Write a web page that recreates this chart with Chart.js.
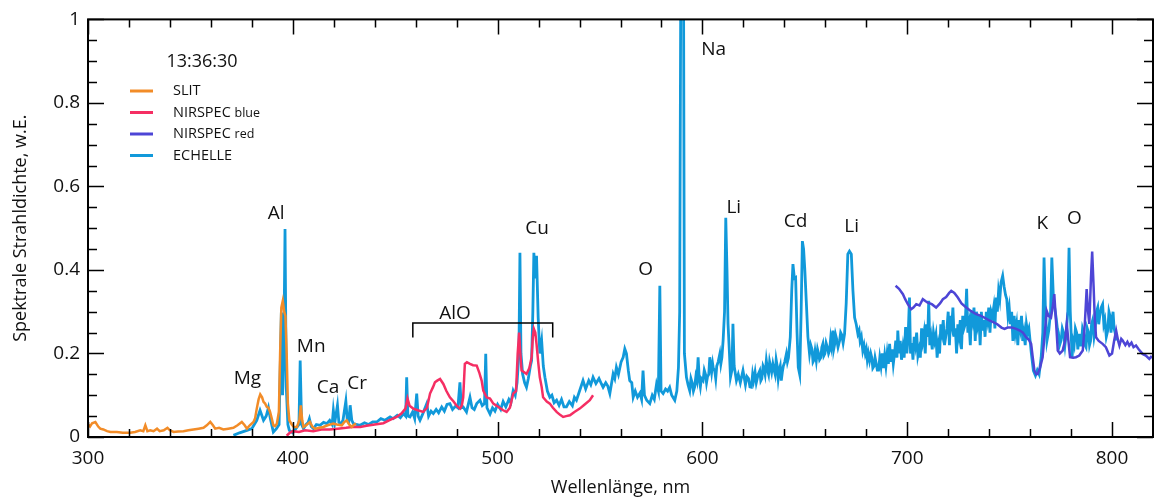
<!DOCTYPE html>
<html lang="de">
<head>
    <meta charset="UTF-8">
    <title>Spektrum 13:36:30</title>
    <script src="https://cdn.jsdelivr.net/npm/chart.js"></script>
    <style>
        body { margin: 0; background: #fff; }
        canvas { display: block; }
    </style>
</head>
<body>
<canvas id="spektrum" width="1154" height="501"></canvas>
<script>
    // Achsen
    const xMin = 300, xMax = 820;
    const yMin = 0, yMax = 1;

    // SLIT [nm, Wert]
    const slit = [
        [300,0.03],[301,0.025],[302,0.033],[303.6,0.036],[305,0.025],[306,0.02],[307.5,0.018],[309.3,0.014],
        [311,0.012],[314.1,0.012],[317,0.01],[320.6,0.01],[323,0.012],[325.5,0.016],[327,0.014],[328,0.028],
        [329,0.014],[330.4,0.016],[332,0.014],[333.7,0.02],[335,0.014],[337,0.016],[338.8,0.022],[340,0.016],
        [341.8,0.012],[344,0.013],[346.6,0.014],[349,0.016],[351.5,0.018],[354,0.02],[356.4,0.022],[358,0.028],
        [359.7,0.036],[361,0.028],[362.1,0.02],[364,0.022],[366.1,0.018],[368.5,0.02],[371,0.022],[373,0.028],
        [375.1,0.036],[376.5,0.028],[377.6,0.02],[379,0.028],[380.8,0.036],[381.6,0.045],[382.4,0.068],[383.3,0.09],
        [384.1,0.102],[385,0.095],[385.7,0.084],[386.5,0.08],[387.3,0.072],[388.1,0.07],[388.9,0.06],[389.7,0.045],
        [390.5,0.028],[391.3,0.026],[392.2,0.032],[393.2,0.06],[393.8,0.2],[394.4,0.31],[395.1,0.326],[395.8,0.3],
        [396.4,0.29],[397,0.2],[397.6,0.08],[398.3,0.04],[399.5,0.03],[400.5,0.024],[402,0.024],[403.2,0.04],
        [403.9,0.076],[404.6,0.04],[405.2,0.024],[406.5,0.028],[408.4,0.036],[409.5,0.025],[410.9,0.02],[413,0.022],
        [414.9,0.024],[417,0.028],[419.8,0.032],[421.5,0.03],[423.9,0.028],[425,0.035],[426.3,0.04],[427.5,0.03],
        [428.8,0.024],[430,0.03],[430.9,0.032]
    ];

    // NIRSPEC blue [nm, Wert]
    const nirspecBlue = [
        [397,0.003],[398.5,0.01],[400,0.014],[403,0.012],[406,0.016],[410,0.014],[414,0.018],[418,0.018],
        [422,0.02],[426,0.022],[429,0.024],[432.9,0.024],[436,0.027],[440,0.03],[444.2,0.033],[447,0.04],
        [450.7,0.048],[453,0.056],[455,0.068],[456,0.092],[457,0.075],[458.8,0.068],[461,0.064],[463.7,0.06],
        [465.5,0.07],[467,0.104],[468.5,0.12],[469.4,0.131],[470.5,0.135],[471.9,0.139],[473.5,0.127],[475,0.11],
        [476.7,0.095],[478.5,0.085],[480,0.075],[481.6,0.068],[482.5,0.075],[483.2,0.095],[484,0.175],[485,0.179],
        [486.5,0.175],[488,0.172],[489.8,0.171],[491,0.155],[492.2,0.135],[493,0.111],[494.6,0.095],[496.3,0.092],
        [497.9,0.08],[499.5,0.075],[501,0.07],[502.7,0.064],[504.4,0.06],[506,0.07],[507.6,0.104],[509,0.11],
        [509.8,0.2],[510.5,0.25],[511.1,0.2],[511.7,0.159],[513,0.155],[514.1,0.151],[515.5,0.165],[516.6,0.191],
        [517.2,0.24],[517.7,0.259],[518.4,0.25],[519,0.223],[519.8,0.18],[520.6,0.143],[521.5,0.12],[522.2,0.095],
        [524,0.085],[525.5,0.08],[527,0.07],[528.8,0.06],[530.5,0.053],[532,0.048],[533.5,0.05],[535.3,0.052],
        [537.5,0.06],[540.1,0.068],[542.5,0.078],[545,0.088],[546.6,0.1]
    ];

    // NIRSPEC red [nm, Wert]
    const nirspecRed = [
        [694.3,0.362],[696,0.355],[697.9,0.342],[699,0.33],[700.3,0.318],[701.9,0.306],[703,0.31],[704.4,0.318],
        [706,0.315],[707.6,0.33],[709,0.325],[710,0.322],[712,0.318],[714.1,0.31],[716,0.32],[717.4,0.33],
        [719,0.335],[720.5,0.345],[721.5,0.35],[723,0.345],[724.7,0.334],[726.5,0.32],[728.8,0.31],[731,0.302],
        [733.7,0.294],[736,0.29],[738,0.285],[740.1,0.279],[742,0.275],[744,0.27],[746,0.262],[747.5,0.259],
        [749,0.262],[751,0.262],[753.2,0.259],[755,0.255],[756.5,0.25],[758,0.239],[759.5,0.232],[760.5,0.223],
        [761.3,0.19],[762.1,0.159],[763,0.15],[763.7,0.151],[764.8,0.165],[766.1,0.191],[767,0.24],[768.1,0.302],
        [769,0.29],[770.2,0.286],[771,0.31],[771.8,0.342],[772.6,0.28],[773.5,0.207],[774.5,0.2],[775.9,0.207],
        [777,0.23],[777.9,0.271],[778.7,0.23],[779.5,0.191],[781,0.19],[782.4,0.191],[784,0.195],[785.7,0.207],
        [786.7,0.27],[787.6,0.354],[788.3,0.3],[788.9,0.271],[789.7,0.38],[790.3,0.444],[791,0.36],[791.6,0.28],
        [792.2,0.239],[793.5,0.23],[795.4,0.223],[797,0.215],[798.7,0.195],[800,0.2],[801,0.23],[802,0.255],
        [803,0.23],[803.6,0.219],[804.5,0.235],[805.2,0.231],[806.5,0.22],[807.5,0.228],[808.4,0.219],[809.5,0.226],
        [810.5,0.215],[811.7,0.219],[813,0.21],[814.9,0.199],[816.5,0.195],[818.2,0.187],[819,0.192],[820,0.19]
    ];

    // ECHELLE [nm, Wert]
    const echelle = [
        [371,0.004],[374,0.01],[377.6,0.016],[380,0.02],[382.4,0.04],[384,0.064],[385.7,0.04],[387,0.05],
        [388.1,0.07],[389,0.045],[390.5,0.012],[392,0.02],[393.3,0.03],[393.8,0.15],[394.4,0.298],[395,0.1],
        [395.6,0.2],[396.2,0.498],[396.8,0.12],[397.6,0.03],[398.3,0.016],[400,0.01],[401.5,0.02],[403,0.03],
        [403.6,0.183],[404.3,0.03],[405.2,0.02],[406.5,0.03],[407.5,0.035],[408.1,0.044],[409,0.025],[410.1,0.02],
        [411.5,0.03],[413.3,0.028],[415,0.035],[416.6,0.032],[418,0.04],[419.2,0.03],[419.8,0.064],[420.5,0.035],
        [421.8,0.076],[422.5,0.035],[423.5,0.032],[424.5,0.04],[425.9,0.086],[426.6,0.04],[427.3,0.035],[428,0.076],
        [428.8,0.04],[429.6,0.032],[431,0.03],[432.8,0.028],[435,0.034],[437,0.03],[439,0.036],[441,0.036],
        [443,0.044],[445,0.04],[447.5,0.048],[449,0.044],[451,0.052],[452.5,0.046],[454,0.056],[455.1,0.05],
        [455.6,0.143],[456.2,0.05],[457.2,0.048],[458.5,0.06],[459.5,0.044],[460.5,0.104],[461.2,0.05],[462.1,0.04],
        [463.5,0.056],[465.4,0.08],[466.3,0.05],[467.5,0.062],[468.6,0.056],[470,0.066],[471.2,0.058],[472.7,0.072],
        [474,0.062],[475.3,0.078],[476.7,0.08],[478,0.066],[479.5,0.074],[480.6,0.07],[481.6,0.131],[482.3,0.07],
        [483.2,0.072],[484.8,0.06],[486.5,0.095],[487.5,0.07],[488.6,0.066],[489.8,0.08],[491.4,0.088],[492.5,0.075],
        [493.6,0.08],[494.2,0.199],[494.8,0.07],[496.3,0.055],[497.5,0.07],[498.7,0.062],[500,0.078],[501.5,0.066],
        [502.7,0.085],[504,0.072],[505.5,0.09],[506.5,0.082],[507.6,0.111],[508.6,0.1],[509.5,0.13],[510.4,0.2],
        [510.9,0.441],[511.4,0.2],[512.2,0.151],[513.2,0.13],[514.1,0.119],[515,0.14],[516,0.17],[516.6,0.183],
        [517.2,0.3],[517.7,0.441],[518.4,0.38],[519,0.434],[519.8,0.286],[520.6,0.2],[521.5,0.231],[522.3,0.17],
        [523.1,0.143],[524.3,0.11],[525.5,0.095],[526.5,0.1],[527.6,0.082],[528.8,0.088],[530,0.076],[531.2,0.09],
        [532.4,0.072],[533.6,0.072],[535,0.085],[536.5,0.075],[537.5,0.095],[538.5,0.088],[540,0.11],[541.7,0.135],
        [543,0.115],[544.5,0.135],[545.5,0.125],[546.6,0.143],[548,0.128],[549.5,0.14],[550.7,0.127],[551.5,0.119],
        [552.8,0.13],[553.8,0.122],[554.8,0.104],[556.4,0.151],[557.2,0.14],[558,0.167],[559,0.15],[560.3,0.18],
        [561.3,0.191],[562.1,0.211],[562.9,0.2],[563.8,0.16],[564.5,0.135],[565.5,0.13],[566.2,0.095],[567.2,0.11],
        [568.3,0.095],[569.5,0.105],[570.3,0.09],[571,0.159],[571.7,0.1],[572.8,0.088],[574.3,0.08],[575.5,0.1],
        [576.5,0.09],[577.6,0.127],[578.5,0.11],[579.2,0.362],[579.8,0.11],[580.8,0.104],[582,0.115],[583,0.11],
        [584,0.119],[585,0.1],[586.5,0.088],[587.5,0.11],[588.3,0.167],[588.9,0.3],[589.4,1.05],[590.8,1.05],
        [591.2,0.2],[592.2,0.143],[593,0.125],[593.8,0.111],[594.4,0.14],[595,0.13],[595.6,0.11],[596.2,0.12],
        [596.8,0.145],[597.3,0.135],[597.9,0.191],[598.5,0.135],[599,0.12],[599.5,0.14],[600.3,0.135],[600.9,0.16],
        [601.5,0.15],[602,0.13],[602.5,0.145],[603.1,0.15],[603.6,0.191],[604.5,0.155],[605,0.175],[605.3,0.165],
        [606,0.159],[606.5,0.14],[607,0.17],[607.7,0.18],[608.5,0.199],[609,0.175],[609.5,0.19],[610.1,0.231],
        [610.8,0.3],[611.4,0.525],[612,0.4],
        [612.5,0.271],[613.2,0.2],[613.7,0.143],[614.4,0.16],[614.9,0.271],[615.5,0.17],[616.6,0.135],[617.5,0.15],
        [618.5,0.13],[619.8,0.159],[621,0.125],[621.7,0.145],[622.5,0.14],[623.2,0.12],[623.9,0.119],[624.5,0.15],
        [625,0.135],[625.7,0.155],[626.3,0.13],[627.2,0.15],[628,0.159],[628.5,0.135],[629,0.14],[629.6,0.17],
        [630,0.165],[630.6,0.15],[631.2,0.183],[631.8,0.16],[632.3,0.15],[632.8,0.18],[633.2,0.17],[633.8,0.155],
        [634.4,0.175],[635,0.16],[635.5,0.15],[636,0.185],[636.5,0.17],[637,0.14],[637.5,0.16],[638,0.17],
        [638.5,0.135],[639,0.155],[639.5,0.17],[640.2,0.18],[641,0.199],[641.5,0.18],[642,0.19],[642.9,0.239],
        [643.6,0.35],[644.2,0.414],[644.9,0.38],[645.5,0.382],[646.2,0.25],[646.8,0.167],[647.5,0.15],[648.2,0.3],
        [648.8,0.469],[649.4,0.45],[650,0.4],[650.7,0.326],[651.5,0.24],[652.3,0.199],[652.9,0.22],[653.5,0.21],
        [654,0.18],[654.5,0.185],[655,0.205],[655.6,0.183],[656.2,0.21],[656.7,0.2],[657.2,0.185],[657.8,0.19],
        [658.3,0.215],[658.8,0.223],[659.3,0.195],[659.8,0.2],[660.4,0.225],[661,0.215],[661.6,0.2],[662.1,0.207],
        [662.6,0.235],[663,0.22],[663.7,0.255],[664.1,0.21],[664.5,0.22],[665,0.245],[665.5,0.235],[666.2,0.215],
        [667,0.231],[667.5,0.25],[668,0.245],[668.7,0.225],[669.4,0.247],[670.2,0.32],[671,0.438],[671.8,0.445],
        [672.7,0.438],[673.5,0.35],[674.3,0.286],[675.1,0.27],[675.9,0.247],[676.5,0.255],[677,0.23],[677.6,0.24],
        [678.3,0.207],[678.9,0.22],[679.5,0.2],[680,0.21],[680.5,0.185],[681,0.2],[681.6,0.183],[682.2,0.2],
        [682.7,0.19],[683.2,0.165],[683.8,0.17],[684.3,0.19],[684.9,0.175],[685.4,0.16],[686,0.16],[686.6,0.19],
        [687.2,0.17],[687.8,0.2],[688.4,0.165],[689,0.195],[689.6,0.17],[690.2,0.2],[690.8,0.175],[691.4,0.223],
        [692,0.18],[692.6,0.21],[693.2,0.175],[693.8,0.2],[694.4,0.231],[695,0.19],[695.4,0.255],[696,0.2],
        [696.6,0.23],[697.2,0.185],[697.9,0.215],[698.5,0.19],[699.2,0.263],[699.8,0.2],[700.4,0.235],[701.1,0.334],
        [701.6,0.2],[702.2,0.225],[702.8,0.185],[703.4,0.24],[704,0.22],[704.6,0.25],[705.2,0.195],[705.8,0.21],
        [706.4,0.19],[707,0.26],[707.6,0.23],[708.2,0.25],[708.8,0.2],[709.4,0.27],[710,0.24],[710.5,0.326],
        [711,0.22],[711.6,0.24],[712.2,0.21],[712.8,0.25],[713.4,0.23],[714,0.245],[714.6,0.19],[715.2,0.22],
        [715.8,0.2],[716.4,0.27],[717,0.25],[717.6,0.28],[718.2,0.22],[718.8,0.24],[719.4,0.26],[720,0.3],
        [720.6,0.22],[721.2,0.29],[721.8,0.27],[722.3,0.31],[722.9,0.24],[723.5,0.26],[724.1,0.2],[724.7,0.27],
        [725.3,0.245],[725.9,0.28],[726.5,0.21],[727.1,0.29],[727.7,0.26],[728.3,0.27],[729,0.355],[729.6,0.25],
        [730.2,0.27],[730.8,0.22],[731.4,0.3],[732,0.28],[732.6,0.31],[733.2,0.23],[733.8,0.3],[734.4,0.27],
        [735,0.29],[735.6,0.22],[736.2,0.3],[736.8,0.255],[737.4,0.28],[738,0.24],[738.6,0.3],[739.2,0.28],
        [739.8,0.31],[740.4,0.25],[741,0.3],[741.6,0.29],[742.2,0.31],[742.8,0.26],[743.4,0.334],[744,0.3],
        [744.6,0.35],[745.2,0.33],[745.8,0.37],[746.6,0.386],[747.3,0.36],[748,0.34],[748.6,0.33],[749.2,0.29],
        [749.8,0.31],[750.4,0.27],[751,0.3],[751.6,0.23],[752.2,0.29],[752.8,0.25],[753.4,0.27],[754,0.22],
        [754.6,0.28],[755.2,0.26],[755.8,0.29],[756.4,0.23],[757,0.25],[757.6,0.22],[758.2,0.27],[758.8,0.25],
        [759.4,0.26],[760,0.23],[760.6,0.2],[761.6,0.159],[762.6,0.147],[763.5,0.16],[764.4,0.15],[765.4,0.191],
        [766.2,0.25],[766.8,0.43],[767.5,0.3],[768.2,0.23],[769.1,0.255],[770,0.3],[770.6,0.43],[771.4,0.33],
        [772.7,0.286],[773.3,0.26],[773.8,0.25],[774.4,0.22],[775.1,0.231],[775.7,0.26],[776.3,0.25],[777,0.22],
        [777.6,0.247],[778.4,0.3],[779,0.453],[779.6,0.3],[780.5,0.191],[781,0.23],[781.5,0.22],[782.1,0.26],
        [782.7,0.25],[783.3,0.21],[784,0.247],[784.5,0.22],[785,0.22],[785.6,0.26],[786.2,0.25],[786.8,0.22],
        [787.3,0.215],[787.9,0.26],[788.5,0.25],[789,0.22],[789.5,0.23],[790,0.27],[790.5,0.279],[791.2,0.24],
        [791.8,0.26],[792.4,0.3],[793,0.31],[793.5,0.27],[794,0.29],[794.7,0.31],[795.4,0.318],[796,0.27],
        [796.5,0.28],[797.2,0.24],[797.9,0.255],[798.5,0.3],[799,0.29],[799.5,0.25],[800,0.279],[800.5,0.3],
        [801,0.26],[801.5,0.25],[802,0.231]
    ];

    // Linienbeschriftungen
    const elemLabels = ['Mg', 'Al', 'Mn', 'Ca', 'Cr', 'AlO', 'Cu', 'O', 'Na', 'Li', 'Cd', 'Li', 'K', 'O'];
    const elemNm = [377.8, 391.9, 409, 417.2, 431.4, 479.2, 519.3, 572.3, 605.5, 615.3, 645.5, 672.9, 766, 781.6];
    const elemVal = [0.14, 0.536, 0.216, 0.118, 0.128, 0.295, 0.498, 0.402, 0.927, 0.55, 0.515, 0.503, 0.51, 0.524];
    const aloBand = [458.6, 526.9];
    const aloLevel = [0.273, 0.238];

    const legendTitle = '13:36:30';
    const seriesNames = ['SLIT', 'NIRSPEC', 'NIRSPEC', 'ECHELLE'];
    const seriesSuffix = ['', 'blue', 'red', ''];

    const colors = ['#f28c28', '#f52e63', '#4d45d6', '#1199da'];
    const widths = [2.5, 2.5, 2.5, 2.8];
    const FONT = '"Open Sans", "Noto Sans", sans-serif';

    function toPoints(arr) {
        return arr.map(p => ({ x: p[0], y: p[1] }));
    }

    const rahmen = {
        id: 'rahmen',
        afterDraw(chart) {
            const ctx = chart.ctx;
            const a = chart.chartArea;
            const xs = chart.scales.x, ys = chart.scales.y;
            ctx.save();
            ctx.strokeStyle = '#000';
            ctx.lineWidth = 1.5;
            ctx.beginPath();
            for (let v = xMin; v <= xMax; v += 20) {
                const px = Math.round(xs.getPixelForValue(v)) + 0.5;
                const len = v % 100 === 0 ? 15 : 8;
                ctx.moveTo(px, a.bottom); ctx.lineTo(px, a.bottom - len);
                ctx.moveTo(px, a.top); ctx.lineTo(px, a.top + len);
            }
            for (let i = 0; i <= 20; i++) {
                const v = i * 0.05;
                const py = Math.round(ys.getPixelForValue(v)) + 0.5;
                const len = i % 4 === 0 ? 16 : 9;
                ctx.moveTo(a.left, py); ctx.lineTo(a.left + len, py);
                ctx.moveTo(a.right, py); ctx.lineTo(a.right - len, py);
            }
            ctx.stroke();
            ctx.lineWidth = 2;
            ctx.strokeRect(a.left, a.top, a.right - a.left, a.bottom - a.top);

            // AlO Klammer
            ctx.lineWidth = 1.5;
            const x1 = xs.getPixelForValue(aloBand[0]), x2 = xs.getPixelForValue(aloBand[1]);
            const yt = ys.getPixelForValue(aloLevel[0]), yb = ys.getPixelForValue(aloLevel[1]);
            ctx.beginPath();
            ctx.moveTo(x1, yb); ctx.lineTo(x1, yt); ctx.lineTo(x2, yt); ctx.lineTo(x2, yb);
            ctx.stroke();

            // Elementnamen
            ctx.fillStyle = '#111';
            ctx.font = '19px ' + FONT;
            ctx.textAlign = 'center';
            ctx.textBaseline = 'middle';
            elemLabels.forEach((t, i) => {
                ctx.fillText(t, xs.getPixelForValue(elemNm[i]), ys.getPixelForValue(elemVal[i]));
            });

            // Legende
            ctx.font = '18px ' + FONT;
            ctx.fillText(legendTitle, 202, 62);
            ctx.textAlign = 'left';
            seriesNames.forEach((n, i) => {
                const yy = 91 + i * 21.5;
                ctx.strokeStyle = colors[i];
                ctx.lineWidth = 3;
                ctx.beginPath();
                ctx.moveTo(130, yy); ctx.lineTo(153, yy);
                ctx.stroke();
                ctx.font = '14.5px ' + FONT;
                ctx.fillText(n, 173, yy);
                if (seriesSuffix[i]) {
                    const w = ctx.measureText(n + ' ').width;
                    ctx.font = '12.5px ' + FONT;
                    ctx.fillText(seriesSuffix[i], 173 + w, yy + 0.5);
                }
            });
            ctx.restore();
        }
    };

    const ds = [slit, nirspecBlue, nirspecRed, echelle].map((arr, i) => ({
        label: seriesNames[i] + (seriesSuffix[i] ? ' ' + seriesSuffix[i] : ''),
        data: toPoints(arr),
        borderColor: colors[i],
        borderWidth: widths[i],
        pointRadius: 0,
        tension: 0,
        fill: false
    }));

    new Chart(document.getElementById('spektrum'), {
        type: 'line',
        data: { datasets: ds },
        options: {
            responsive: false,
            animation: false,
            layout: { padding: { left: 0, right: 1, top: 18, bottom: 0 } },
            plugins: {
                legend: { display: false },
                tooltip: { enabled: false }
            },
            scales: {
                x: {
                    type: 'linear',
                    min: xMin,
                    max: xMax,
                    grid: { display: false, drawTicks: false },
                    border: { display: false },
                    afterFit: s => { s.height = 64; },
                    ticks: {
                        stepSize: 100,
                        includeBounds: false,
                        padding: 10,
                        color: '#111',
                        font: { family: FONT, size: 19 }
                    },
                    title: {
                        display: true,
                        text: 'Wellenlänge, nm',
                        color: '#111',
                        font: { family: FONT, size: 18 },
                        padding: { top: 0, bottom: 2 }
                    }
                },
                y: {
                    min: yMin,
                    max: yMax,
                    grid: { display: false, drawTicks: false },
                    border: { display: false },
                    afterFit: s => { s.width = 88; },
                    ticks: {
                        stepSize: 0.2,
                        padding: 8,
                        color: '#111',
                        font: { family: FONT, size: 19 },
                        callback: v => String(Math.round(v * 10) / 10)
                    },
                    title: {
                        display: true,
                        text: 'Spektrale Strahldichte, w.E.',
                        color: '#111',
                        font: { family: FONT, size: 18 },
                        padding: { top: 10, bottom: 0 }
                    }
                }
            }
        },
        plugins: [rahmen]
    });
</script>
</body>
</html>
